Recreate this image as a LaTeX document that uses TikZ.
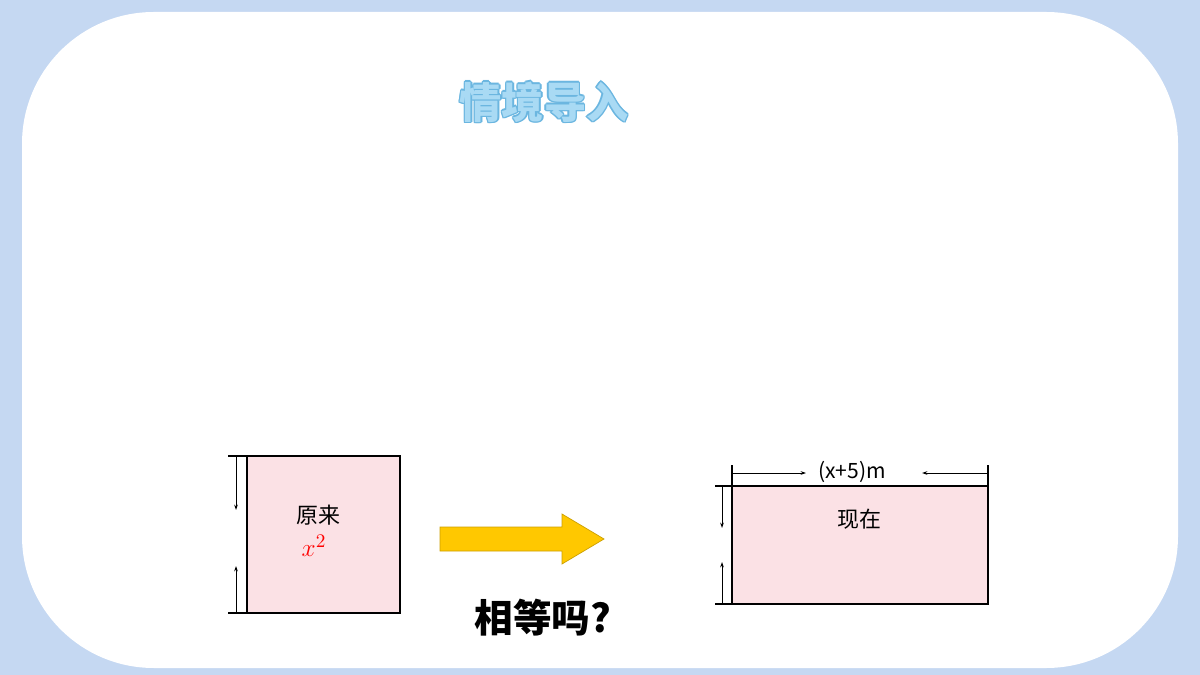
\documentclass[tikz,border=0pt]{standalone}
\usepackage{fontspec}
\newfontfamily\cjk{Noto Sans CJK SC}
\newfontfamily\cjkb{Noto Sans CJK SC Black}
\usetikzlibrary{arrows.meta}
\definecolor{bgblue}{HTML}{C5D8F2}
\definecolor{pinkf}{HTML}{FBE1E5}
\definecolor{yel}{HTML}{FFC800}
\definecolor{ttl}{HTML}{A9DAF4}
\definecolor{ttlo}{HTML}{6BB6E0}
\tikzset{dim/.style={line width=0.5pt,-{Stealth[length=3pt,width=2pt]}},tick/.style={line width=0.6pt},
box/.style={draw,line width=0.6pt,fill=pinkf},ttlfont/.style={font=\cjkb\fontsize{24}{24}\selectfont}}
\begin{document}
\begin{tikzpicture}[x=0.02cm,y=-0.02cm]
\fill[bgblue] (0,0) rectangle (1200,675);
\fill[white,rounded corners=75] (22,12) rectangle (1178,668);
\foreach \dx/\dy in {-1.5/0,1.5/0,0/-1.5,0/1.5,-1/-1,1/1,-1/1,1/-1}
  \node[text=ttlo,ttlfont] at (544+\dx,102+\dy) {情境导入};
\node[text=ttl,ttlfont] (title) at (544,102) {情境导入};
% left square
\draw[box] (247,456) rectangle (400,613);
\coordinate (lt) at (236,456); \coordinate (lb) at (236,613);
\draw[tick] (228,456) -- (247,456); \draw[tick] (228,613) -- (247,613);
\draw[dim] (lt) -- (236,510); \draw[dim] (lb) -- (236,566);
\node[font=\cjk\fontsize{12.5}{12.5}\selectfont] (orig) at (318,515) {原来};
\node[text=red,font=\fontsize{15}{15}\selectfont] (xsq) at (314,546) {$x^2$};
% arrow
\draw[fill=yel,draw=yel!80!black,line width=0.4pt] (440,527) -- (562,527) -- (562,514) -- (604,539) -- (562,564) -- (562,551) -- (440,551) -- cycle;
\node[font=\cjkb\fontsize{22}{22}\selectfont] (q) at (543,618) {相等吗?};
% right rect
\draw[box] (732,486) rectangle (988,604);
\draw[tick] (732,465) -- (732,486); \draw[tick] (988,465) -- (988,486);
\coordinate (ta) at (732,473); \coordinate (tb) at (988,473);
\draw[dim] (ta) -- (806,473); \draw[dim] (tb) -- (922,473);
\node[font=\cjk\fontsize{12}{12}\selectfont,inner sep=1pt] (w) at (852,472) {(x+5)m};
\draw[tick] (715,486) -- (732,486); \draw[tick] (715,604) -- (732,604);
\coordinate (ra) at (722,486); \coordinate (rb) at (722,604);
\draw[dim] (ra) -- (722,528); \draw[dim] (rb) -- (722,562);
\node[font=\cjk\fontsize{12.5}{12.5}\selectfont] (now) at (859,519) {现在};
\end{tikzpicture}
\end{document}
